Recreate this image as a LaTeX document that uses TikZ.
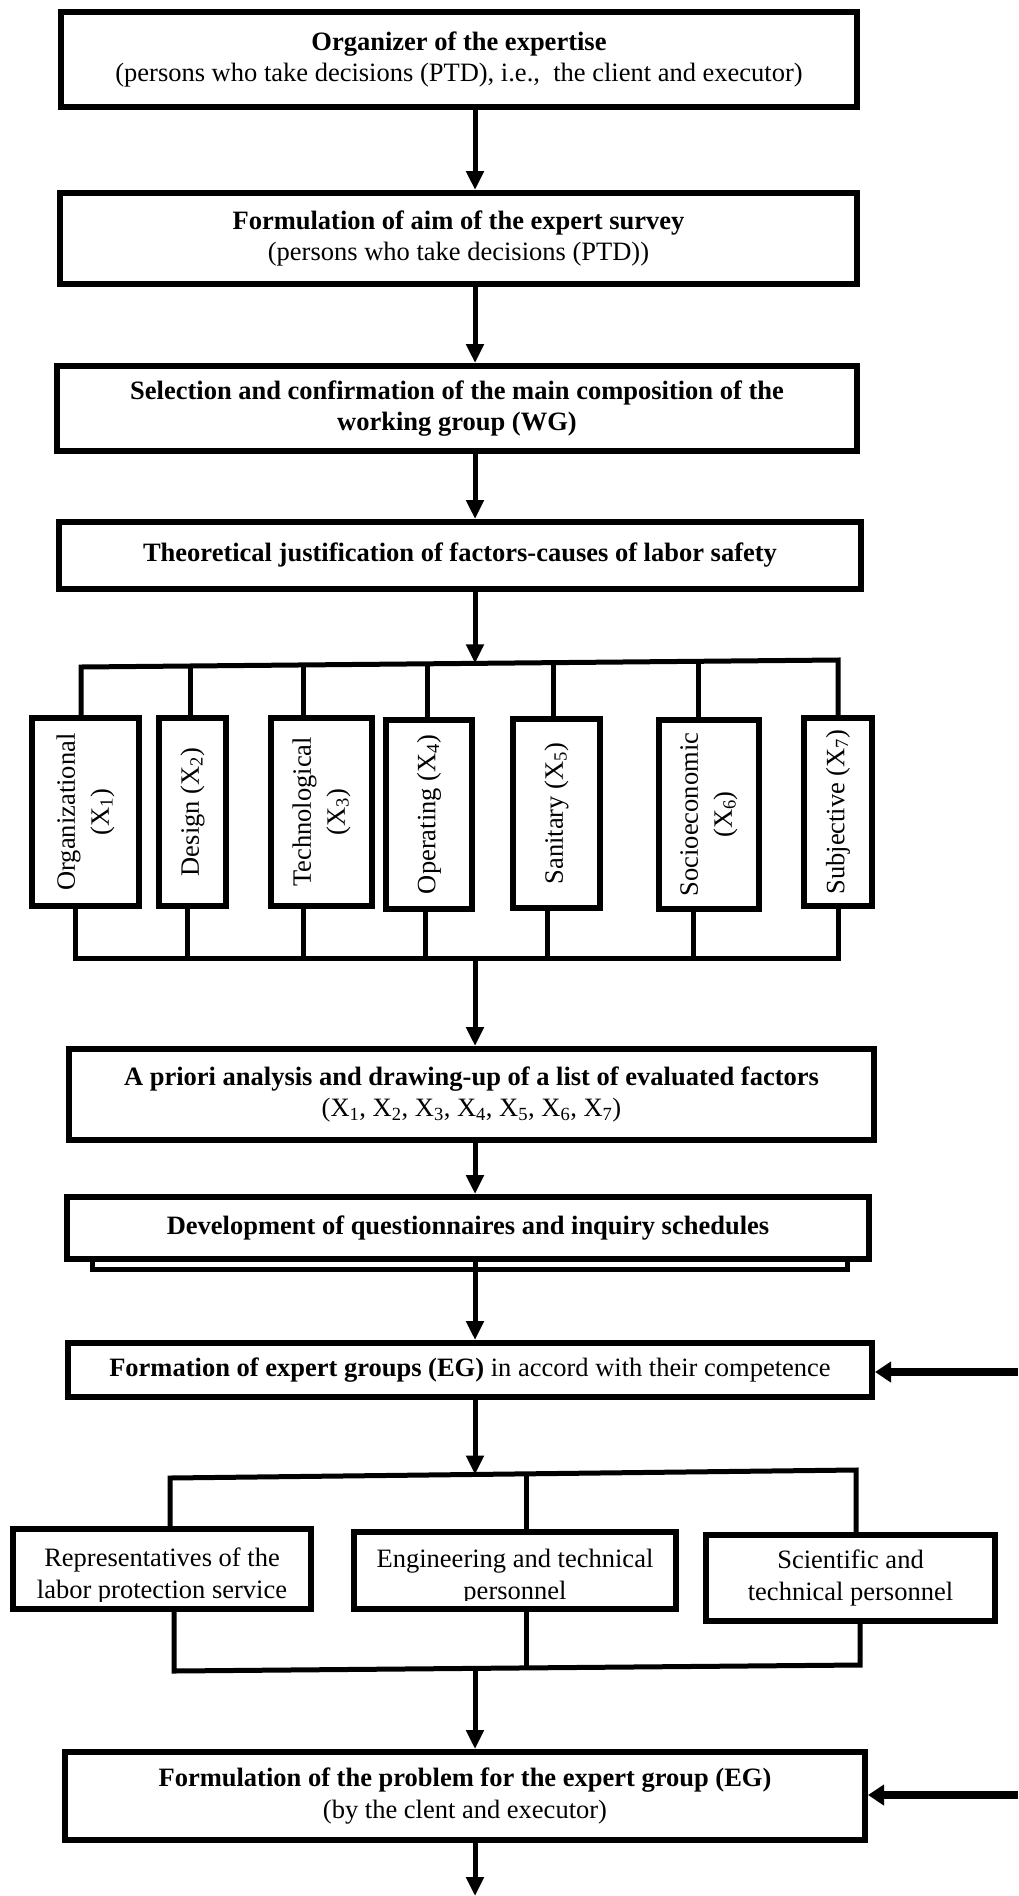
\documentclass[tikz,border=0pt]{standalone}
\usepackage{fontspec}
\setmainfont{Liberation Serif}
\usetikzlibrary{arrows.meta,calc}
\begin{document}
\begin{tikzpicture}[x=1pt,y=-1pt,
  box/.style={draw, line width=6pt, fill=white, inner sep=0pt, align=center, font=\fontsize{26.5}{31.5}\selectfont},
  fbox/.style={box, rotate=90, font=\fontsize{26.5}{34}\selectfont},
  txt/.style={inner sep=0pt, align=center, font=\fontsize{26.5}{31.5}\selectfont},
  conn/.style={line width=5pt, line join=miter},
  arr/.style={line width=5pt, -{Triangle[length=19pt,width=17pt]}},
  sidearr/.style={line width=8pt, -{Triangle[length=16pt,width=20pt]}},
]
\useasboundingbox (0,0) rectangle (1018,1896);
\coordinate (ax) at (475,0);

% main chain
\node[box, minimum width=796, minimum height=95] (B1) at (459,59.5)
  {\textbf{Organizer of the expertise}\\(persons who take decisions (PTD), i.e.,\ \ the client and executor)};
\node[box, minimum width=797, minimum height=91] (B2) at (458.5,238.5)
  {\textbf{Formulation of aim of the expert survey}\\(persons who take decisions (PTD))};
\node[box, minimum width=800, minimum height=85] (B3) at (457,408.5)
  {\textbf{Selection and confirmation of the main composition of the}\\\textbf{working group (WG)}};
\node[box, minimum width=802, minimum height=67] (B4) at (460,555.5)
  {\textbf{Theoretical justification of factors-causes of labor safety}};

\draw[arr] (B1.south -| ax) -- (B2.north -| ax);
\draw[arr] (B2.south -| ax) -- (B3.north -| ax);
\draw[arr] (B3.south -| ax) -- (B4.north -| ax);

% factors
\node[fbox, minimum width=188, minimum height=107] (F1) at (85.5,812) {Organizational\\(X\textsubscript{1})};
\node[fbox, minimum width=188, minimum height=67] (F2) at (192.5,812) {Design (X\textsubscript{2})};
\node[fbox, minimum width=188, minimum height=101] (F3) at (321.5,812) {Technological\\(X\textsubscript{3})};
\node[fbox, minimum width=189, minimum height=86] (F4) at (429,814.5) {Operating (X\textsubscript{4})};
\node[fbox, minimum width=189, minimum height=87] (F5) at (556.5,813.5) {Sanitary (X\textsubscript{5})};
\node[fbox, minimum width=189, minimum height=100] (F6) at (709,814.5) {Socioeconomic\\(X\textsubscript{6})};
\node[fbox, minimum width=188, minimum height=68] (F7) at (838,812) {Subjective (X\textsubscript{7})};

\coordinate (t1) at (81,667);
\coordinate (t2) at (190,666);
\coordinate (t3) at (303,664.9);
\coordinate (t4) at (427,663.8);
\coordinate (t5) at (553,662.6);
\coordinate (t6) at (698,661.3);
\coordinate (t7) at (838,660);
\coordinate (j1) at (475,663.4);
\draw[arr] (B4.south -| j1) -- (j1);
\draw[conn] (t1 |- F1.east) -- (t1) -- (t7) -- (t7 |- F7.east);
\foreach \i in {2,...,6} { \draw[conn] (t\i) -- (t\i |- F\i.east); }

\coordinate (u1) at (75,958);
\coordinate (u2) at (187,958);
\coordinate (u3) at (303,958);
\coordinate (u4) at (425,958);
\coordinate (u5) at (547,958);
\coordinate (u6) at (693,958);
\coordinate (u7) at (838,958);
\coordinate (j2) at (475,958);
\draw[conn] (F1.west -| u1) -- (u1) -- (u7) -- (F7.west -| u7);
\foreach \i in {2,...,6} { \draw[conn] (F\i.west -| u\i) -- (u\i); }

\node[box, minimum width=805, minimum height=91] (AP) at (471.5,1094.5)
  {\textbf{A priori analysis and drawing-up of a list of evaluated factors}\\(X\textsubscript{1}, X\textsubscript{2}, X\textsubscript{3}, X\textsubscript{4}, X\textsubscript{5}, X\textsubscript{6}, X\textsubscript{7})};
\draw[arr] (j2) -- (AP.north -| j2);

\node[box, line width=5pt, minimum width=755, minimum height=46] (DevS) at (470,1246.5) {};
\node[box, minimum width=802, minimum height=62] (Dev) at (468,1228)
  {\textbf{Development of questionnaires and inquiry schedules}};
\draw[arr] (AP.south -| ax) -- (Dev.north -| ax);

\node[box, minimum width=804, minimum height=54] (Form) at (470,1370)
  {\textbf{Formation of expert groups (EG)} in accord with their competence};
\draw[arr] (Dev.south -| ax) -- (Form.north -| ax);
\coordinate (r1) at (1018,1372);
\draw[sidearr] (r1) -- (Form.east |- r1);

% expert groups
\node[box, minimum width=298, minimum height=80] (Rep) at (162,1569) {};
\node[box, minimum width=322, minimum height=77] (Eng) at (515,1570.5) {};
\node[box, minimum width=289, minimum height=86] (Sci) at (850.5,1578)
  {Scientific and\\technical personnel};
\begin{scope}
  \clip (Rep.north west) rectangle ($(Rep.south east)+(0,-11)$);
  \node[txt] (RepT) at (162,1576) {Representatives of the\\labor protection service};
\end{scope}
\begin{scope}
  \clip (Eng.north west) rectangle ($(Eng.south east)+(0,-12)$);
  \node[txt] (EngT) at (515,1577) {Engineering and technical\\personnel};
\end{scope}

\coordinate (s1) at (170,1478);
\coordinate (s2) at (526,1473.9);
\coordinate (s3) at (856,1470);
\coordinate (j3) at (475,1474.5);
\draw[arr] (Form.south -| j3) -- (j3);
\draw[conn] (s1 |- Rep.north) -- (s1) -- (s3) -- (s3 |- Sci.north);
\draw[conn] (s2) -- (s2 |- Eng.north);

\coordinate (v1) at (174,1671);
\coordinate (v2) at (526,1667.9);
\coordinate (v3) at (860,1665);
\coordinate (j4) at (475,1668.4);
\draw[conn] (Rep.south -| v1) -- (v1) -- (v3) -- (Sci.south -| v3);
\draw[conn] (Eng.south -| v2) -- (v2);

\node[box, minimum width=800, minimum height=88] (Fin) at (465,1796)
  {\textbf{Formulation of the problem for the expert group (EG)}\\(by the clent and executor)};
\draw[arr] (j4) -- (Fin.north -| j4);
\coordinate (r2) at (1018,1795);
\draw[sidearr] (r2) -- (Fin.east |- r2);
\coordinate (bot) at (475,1896);
\draw[arr] (Fin.south -| bot) -- (bot);
\end{tikzpicture}
\end{document}
